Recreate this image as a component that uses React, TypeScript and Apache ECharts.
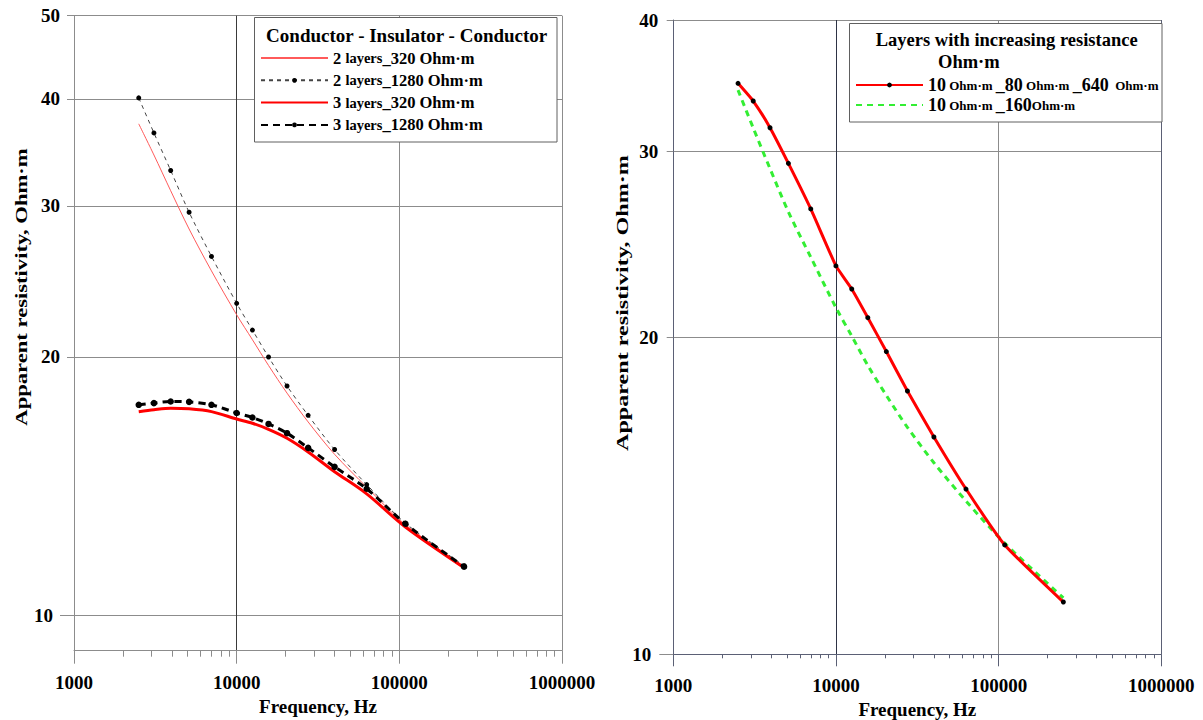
import React, { useEffect, useRef } from 'react';
import * as echarts from 'echarts';

// ---------- data ----------
const frequencies = [2500, 3100, 3930, 5100, 7000, 10000, 12500, 15700, 20400, 27500, 40000, 63000, 109000, 250000];

const twoLayers320 = [37.4, 34.4, 31.25, 28.2, 25.2, 22.4, 20.95, 19.55, 18.15, 16.8, 15.4, 14.1, 12.75, 11.4];
const twoLayers1280 = [40.1, 36.5, 33.0, 29.5, 26.2, 23.1, 21.5, 20.0, 18.5, 17.1, 15.6, 14.2, 12.8, 11.42];
const threeLayers320 = [17.27, 17.36, 17.43, 17.4, 17.27, 16.93, 16.74, 16.47, 16.08, 15.5, 14.7, 13.85, 12.67, 11.36];
const threeLayers1280 = [17.59, 17.67, 17.75, 17.73, 17.59, 17.21, 17.0, 16.71, 16.3, 15.67, 14.89, 14.04, 12.78, 11.39];

const increasing10_80_640 = [34.83, 33.51, 31.61, 29.24, 26.47, 23.37, 22.22, 20.87, 19.38, 17.78, 16.08, 14.35, 12.7, 11.21];
const increasing10_160 = [34.32, 31.59, 28.91, 26.3, 23.82, 21.33, 20.05, 18.8, 17.61, 16.42, 15.2, 13.98, 12.75, 11.31];

const leftYTicks = [10, 20, 30, 40, 50];
const rightYTicks = [10, 20, 30, 40];
const minorXTicks = [2000, 3000, 4000, 5000, 6000, 7000, 8000, 9000, 20000, 30000, 40000, 50000, 60000, 70000, 80000, 90000, 200000, 300000, 400000, 500000, 600000, 700000, 800000, 900000];

const NAME_2_320 = '2 layers_320 Ohm·m';
const NAME_2_1280 = '2 layers_1280 Ohm·m';
const NAME_3_320 = '3 layers_320 Ohm·m';
const NAME_3_1280 = '3 layers_1280 Ohm·m';
const NAME_R1 = '10 Ohm·m_80 Ohm·m_640 Ohm·m';
const NAME_R2 = '10 Ohm·m_160 Ohm·m';

const FONT = "'Liberation Serif', 'Times New Roman', serif";

const pairs = (vals: number[]) => frequencies.map((f, i) => [f, vals[i]]);

function buildOption() {
  const tickLabelRich = {
    n: { fontSize: 19, fontWeight: 'bold', fontFamily: FONT, color: '#000' },
    p: { fontSize: 19, fontWeight: 'bold', fontFamily: FONT, color: '#000', padding: [0, 7, 0, 0] },
  };
  const yFormatter = (v: number) => {
    const r = Math.round(v);
    return r === 10 ? `{p|${r}}` : `{n|${r}}`;
  };
  const xLabel = (margin: number) => ({
    margin,
    fontSize: 19,
    fontWeight: 'bold',
    fontFamily: FONT,
    color: '#000',
    formatter: (v: number) => String(Math.round(v)),
  });
  const nameStyle = { fontSize: 19, fontWeight: 'bold', fontFamily: FONT, color: '#000' };

  const legendRichLeft = {
    n: { fontSize: 16.5, fontWeight: 'bold', fontFamily: FONT, color: '#000', lineHeight: 20 },
    s: { fontSize: 14.5, fontWeight: 'bold', fontFamily: FONT, color: '#000', lineHeight: 20 },
    u: { fontSize: 16.5, fontWeight: 'bold', fontFamily: FONT, color: '#000', lineHeight: 20 },
  };
  const legendRichRight = {
    n: { fontSize: 18, fontWeight: 'bold', fontFamily: FONT, color: '#000', lineHeight: 20 },
    s: { fontSize: 13, fontWeight: 'bold', fontFamily: FONT, color: '#000', lineHeight: 20 },
  };
  const leftLegendText: Record<string, string> = {
    [NAME_2_320]: '{n|2 }{s|layers}{n|_320 }{u|Ohm·m}',
    [NAME_2_1280]: '{n|2 }{s|layers}{n|_1280 }{u|Ohm·m}',
    [NAME_3_320]: '{n|3 }{s|layers}{n|_320 }{u|Ohm·m}',
    [NAME_3_1280]: '{n|3 }{s|layers}{n|_1280 }{u|Ohm·m}',
  };
  const rightLegendText: Record<string, string> = {
    [NAME_R1]: '{n|10}{s| Ohm·m }{n|_80}{s| Ohm·m }{n|_640}{s|  Ohm·m}',
    [NAME_R2]: '{n|10}{s| Ohm·m }{n|_160}{s|Ohm·m}',
  };

  return {
    animation: false,
    backgroundColor: '#ffffff',
    grid: [
      { left: 74, top: 15.7, width: 488, height: 635, containLabel: false, outerBoundsMode: 'none' },
      { left: 673.3, top: 20, width: 488, height: 634.3, containLabel: false, outerBoundsMode: 'none' },
    ],
    xAxis: [
      {
        type: 'log', logBase: 10, gridIndex: 0, min: 1000, max: 1000000, position: 'bottom',
        axisLine: { onZero: false, lineStyle: { color: '#8c8c8c', width: 1 } },
        axisTick: { length: 13, lineStyle: { color: '#8c8c8c' } },
        axisLabel: xLabel(22),
        splitLine: { show: true, lineStyle: { color: ['#8c8c8c', '#8c8c8c', '#3a3a3a', '#8c8c8c'], width: 1 } },
        name: 'Frequency, Hz', nameLocation: 'middle', nameGap: 40, nameTextStyle: nameStyle,
      },
      {
        type: 'log', logBase: 10, gridIndex: 0, min: 1000, max: 1000000, position: 'bottom',
        axisLine: { show: false, onZero: false },
        axisTick: { show: true, customValues: minorXTicks, length: 6, lineStyle: { color: '#8c8c8c' } },
        axisLabel: { show: false },
        splitLine: { show: false },
      },
      {
        type: 'log', logBase: 10, gridIndex: 1, min: 1000, max: 1000000, position: 'bottom',
        axisLine: { onZero: false, lineStyle: { color: '#5b6075', width: 1 } },
        axisTick: { length: 12, lineStyle: { color: '#5b6075' } },
        axisLabel: xLabel(21.5),
        splitLine: { show: true, lineStyle: { color: ['#5b6075', '#2e3345', '#2e3345', '#8c8c8c'], width: 1 } },
        name: 'Frequency, Hz', nameLocation: 'middle', nameGap: 37, nameTextStyle: nameStyle,
      },
      {
        type: 'log', logBase: 10, gridIndex: 1, min: 1000, max: 1000000, position: 'bottom',
        axisLine: { show: false, onZero: false },
        axisTick: { show: true, customValues: minorXTicks, length: 4, lineStyle: { color: '#5b6075' } },
        axisLabel: { show: false },
        splitLine: { show: false },
      },
    ],
    yAxis: [
      {
        type: 'log', logBase: 10, gridIndex: 0, min: 9.09, max: 50, position: 'left',
        axisLine: { show: true, onZero: false, lineStyle: { color: '#8c8c8c' } },
        axisTick: { show: true, customValues: leftYTicks, length: 7, lineStyle: { color: '#8c8c8c' } },
        axisLabel: { customValues: leftYTicks, margin: 14, formatter: yFormatter, rich: tickLabelRich },
        splitLine: { show: true, customValues: leftYTicks, lineStyle: { color: '#8c8c8c', width: 1 } },
      },
      {
        type: 'log', logBase: 10, gridIndex: 0, min: 9.09, max: 50, position: 'left',
        axisLine: { show: false, onZero: false },
        axisTick: { show: true, customValues: [10], length: 14, lineStyle: { color: '#8c8c8c' } },
        axisLabel: { show: false },
        splitLine: { show: false },
      },
      {
        type: 'log', logBase: 10, gridIndex: 1, min: 10, max: 40, position: 'left',
        axisLine: { show: true, onZero: false, lineStyle: { color: '#5b6075' } },
        axisTick: { show: true, customValues: rightYTicks, length: 6.6, lineStyle: { color: '#8c8c8c' } },
        axisLabel: { customValues: rightYTicks, margin: 15, formatter: yFormatter, rich: tickLabelRich },
        splitLine: { show: true, customValues: rightYTicks, lineStyle: { color: '#8c8c8c', width: 1 } },
      },
      {
        type: 'log', logBase: 10, gridIndex: 1, min: 10, max: 40, position: 'left',
        axisLine: { show: false, onZero: false },
        axisTick: { show: true, customValues: [10], length: 14, lineStyle: { color: '#8c8c8c' } },
        axisLabel: { show: false },
        splitLine: { show: false },
      },
    ],
    legend: [
      {
        orient: 'vertical', left: 260, top: 48, padding: 0, itemGap: 2.3,
        itemWidth: 67, itemHeight: 6, selectedMode: false, z: 20,
        data: [
          { name: NAME_2_320, itemStyle: { opacity: 0 } },
          { name: NAME_2_1280 },
          { name: NAME_3_320, itemStyle: { opacity: 0 } },
          { name: NAME_3_1280 },
        ],
        formatter: (name: string) => leftLegendText[name] || name,
        textStyle: { fontFamily: FONT, fontWeight: 'bold', color: '#000', lineHeight: 20, rich: legendRichLeft },
      },
      {
        orient: 'vertical', left: 855, top: 75, padding: 0, itemGap: 0,
        itemWidth: 67, itemHeight: 6, selectedMode: false, z: 20,
        data: [
          { name: NAME_R1 },
          { name: NAME_R2, itemStyle: { opacity: 0 } },
        ],
        formatter: (name: string) => rightLegendText[name] || name,
        textStyle: { fontFamily: FONT, fontWeight: 'bold', color: '#000', lineHeight: 20, rich: legendRichRight },
      },
    ],
    graphic: [
      { type: 'rect', z: 10, shape: { x: 254.5, y: 17.5, width: 302.5, height: 124.5 }, style: { fill: '#fff', stroke: '#606060', lineWidth: 1 } },
      { type: 'text', z: 11, x: 406.7, y: 35, style: { text: 'Conductor - Insulator - Conductor', fill: '#000', font: `bold 19px ${FONT}`, textAlign: 'center', textVerticalAlign: 'middle' } },
      { type: 'rect', z: 10, shape: { x: 849.5, y: 23.5, width: 312.5, height: 98.5 }, style: { fill: '#fff', stroke: '#606060', lineWidth: 1 } },
      { type: 'text', z: 11, x: 1006.7, y: 40, style: { text: 'Layers with increasing resistance', fill: '#000', font: `bold 18.5px ${FONT}`, textAlign: 'center', textVerticalAlign: 'middle' } },
      { type: 'text', z: 11, x: 938, y: 62, style: { text: 'Ohm·m', fill: '#000', font: `bold 18.5px ${FONT}`, textAlign: 'left', textVerticalAlign: 'middle' } },
      { type: 'text', z: 11, x: 21, y: 287, rotation: Math.PI / 2, scaleX: 1.33, style: { text: 'Apparent resistivity, Ohm·m', fill: '#000', font: `bold 17px ${FONT}`, textAlign: 'center', textVerticalAlign: 'middle' } },
      { type: 'text', z: 11, x: 622, y: 303, rotation: Math.PI / 2, scaleX: 1.42, style: { text: 'Apparent resistivity, Ohm·m', fill: '#000', font: `bold 17px ${FONT}`, textAlign: 'center', textVerticalAlign: 'middle' } },
    ],
    series: [
      {
        name: NAME_2_320, type: 'line', xAxisIndex: 0, yAxisIndex: 0, data: pairs(twoLayers320),
        symbol: 'none', smooth: 0.3, lineStyle: { color: '#ff5a5a', width: 1 }, itemStyle: { color: '#ff5a5a' },
      },
      {
        name: NAME_3_320, type: 'line', xAxisIndex: 0, yAxisIndex: 0, data: pairs(threeLayers320),
        symbol: 'none', smooth: 0.3, lineStyle: { color: '#ff0000', width: 3 }, itemStyle: { color: '#ff0000' },
      },
      {
        name: NAME_2_1280, type: 'line', xAxisIndex: 0, yAxisIndex: 0, data: pairs(twoLayers1280),
        symbol: 'circle', symbolSize: 5, smooth: 0.3,
        lineStyle: { color: '#444', width: 1, type: [4, 4] }, itemStyle: { color: '#000' },
      },
      {
        name: NAME_3_1280, type: 'line', xAxisIndex: 0, yAxisIndex: 0, data: pairs(threeLayers1280),
        symbol: 'circle', symbolSize: 6.5, smooth: 0.3,
        lineStyle: { color: '#000', width: 3, type: [7, 5] }, itemStyle: { color: '#000' },
      },
      {
        name: NAME_R2, type: 'line', xAxisIndex: 2, yAxisIndex: 2, data: pairs(increasing10_160),
        symbol: 'none', smooth: 0.3, lineStyle: { color: '#33ee33', width: 3, type: [6, 5] }, itemStyle: { color: '#33ee33' },
      },
      {
        name: NAME_R1, type: 'line', xAxisIndex: 2, yAxisIndex: 2, data: pairs(increasing10_80_640),
        symbol: 'circle', symbolSize: 5, smooth: 0.15,
        lineStyle: { color: '#ff0000', width: 3 }, itemStyle: { color: '#000' },
      },
    ],
  };
}

export default function App() {
  const ref = useRef<HTMLDivElement>(null);
  useEffect(() => {
    if (!ref.current) return;
    const chart = echarts.init(ref.current, null, { renderer: 'svg' });
    chart.setOption(buildOption() as any);
    return () => chart.dispose();
  }, []);
  return (
    <div
      ref={ref}
      style={{ position: 'absolute', left: 0, top: 0, width: 1203, height: 720, background: '#fff' }}
    />
  );
}
